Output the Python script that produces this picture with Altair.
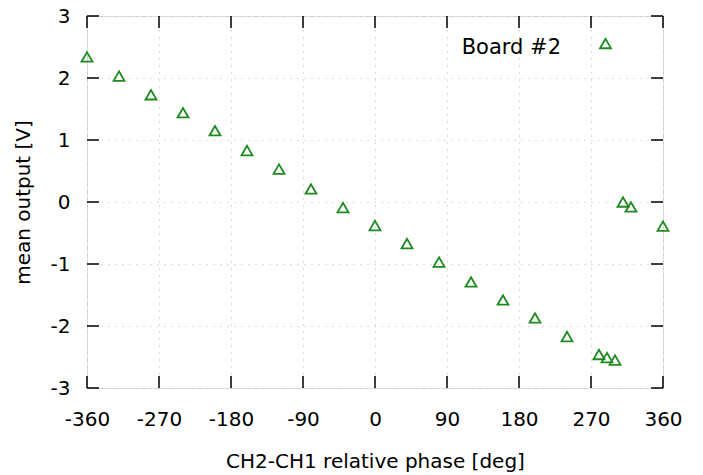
import altair as alt
import pandas as pd

# --- data ---
phase_deg = [-360, -320, -280, -240, -200, -160, -120, -80, -40, 0, 40, 80,
             120, 160, 200, 240, 280, 290, 300, 310, 320, 360]
mean_output_v = [2.34, 2.03, 1.73, 1.44, 1.15, 0.83, 0.53, 0.21, -0.09, -0.38,
                 -0.67, -0.97, -1.29, -1.58, -1.87, -2.17, -2.46, -2.51, -2.55,
                 0.00, -0.08, -0.39]
series_name = "Board #2"
x_ticks = [-360, -270, -180, -90, 0, 90, 180, 270, 360]
y_ticks = [-3, -2, -1, 0, 1, 2, 3]

W, H = 576, 372
FONT = "DejaVu Sans"
GREEN = "#1f8a1f"
TICK_LEN = 12

df = pd.DataFrame({"phase": phase_deg, "out": mean_output_v,
                   "series": series_name, "key": "key"})
xt = pd.DataFrame({"v": x_ticks})
yt = pd.DataFrame({"v": y_ticks})

xscale = alt.Scale(domain=[-360, 360], nice=False, zero=False)
yscale = alt.Scale(domain=[-3, 3], nice=False, zero=False)

grid_axis = dict(grid=True, gridColor="#b8b8b8", gridDash=[1, 6], gridWidth=1,
                 domain=False, ticks=False, tickSize=0,
                 labelExpr="toString(datum.value)",
                 labelFont=FONT, labelFontSize=20, labelColor="#000",
                 titleFont=FONT, titleFontSize=20, titleColor="#000",
                 titleFontWeight="normal")

points = alt.Chart(df).mark_point(
    filled=False, size=120, strokeWidth=1.8, opacity=1
).encode(
    x=alt.X("phase:Q", scale=xscale,
            axis=alt.Axis(values=x_ticks, title="CH2-CH1 relative phase [deg]",
                          labelPadding=21, titlePadding=22, labelFlush=False,
                          **grid_axis)),
    y=alt.Y("out:Q", scale=yscale,
            axis=alt.Axis(values=y_ticks, title="mean output [V]",
                          labelPadding=17, titlePadding=17,
                          **grid_axis)),
    # legend symbol (label hidden)
    color=alt.Color("series:N",
                    scale=alt.Scale(domain=[series_name], range=[GREEN]),
                    legend=alt.Legend(title=None, orient="none",
                                      legendX=512, legendY=21, padding=0,
                                      labelExpr="''", labelFontSize=1,
                                      symbolType="triangle-up",
                                      symbolSize=120, symbolStrokeWidth=1.8,
                                      symbolFillColor="transparent")),
    # legend text (symbol hidden), placed left of the symbol like gnuplot
    shape=alt.Shape("key:N",
                    scale=alt.Scale(domain=["key"], range=["triangle-up"]),
                    legend=alt.Legend(title=None, orient="none",
                                      legendX=453, legendY=21, padding=0,
                                      labelExpr="'" + series_name + "'",
                                      labelAlign="right", labelOffset=0,
                                      symbolOpacity=0, symbolSize=120,
                                      labelFont=FONT, labelFontSize=21,
                                      labelColor="#000")),
)

xb = alt.Chart(xt).mark_rule(color="#000", strokeWidth=1.5).encode(
    x=alt.X("v:Q", scale=xscale), y=alt.value(H), y2=alt.value(H - TICK_LEN))
xtop = alt.Chart(xt).mark_rule(color="#000", strokeWidth=1.5).encode(
    x=alt.X("v:Q", scale=xscale), y=alt.value(0), y2=alt.value(TICK_LEN))
yl = alt.Chart(yt).mark_rule(color="#000", strokeWidth=1.5).encode(
    y=alt.Y("v:Q", scale=yscale), x=alt.value(0), x2=alt.value(TICK_LEN))
yr = alt.Chart(yt).mark_rule(color="#000", strokeWidth=1.5).encode(
    y=alt.Y("v:Q", scale=yscale), x=alt.value(W), x2=alt.value(W - TICK_LEN))

chart = alt.layer(xb, xtop, yl, yr, points).properties(
    width=W, height=H,
    autosize=alt.AutoSizeParams(type="none"),
    padding={"left": 79, "top": 8, "right": 30, "bottom": 85},
).configure_view(stroke="#000", strokeWidth=1.5).configure(background="white")

chart.save("out.html", embed_options={"renderer": "svg", "actions": False})
